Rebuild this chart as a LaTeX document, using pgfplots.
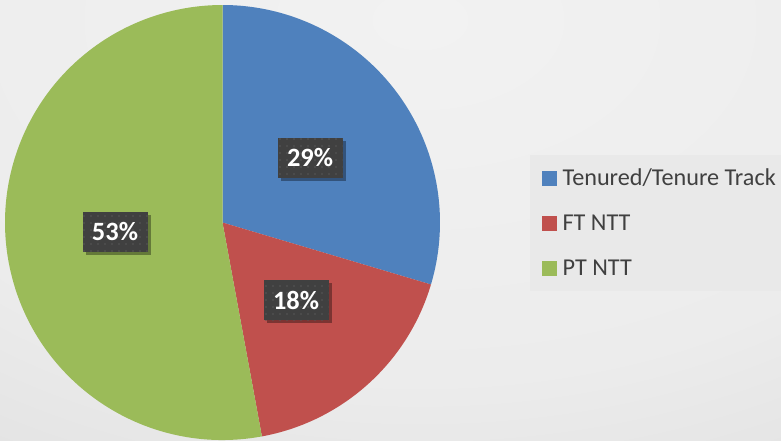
\documentclass[border=0pt]{standalone}
\usepackage{pgfplots}
\pgfplotsset{compat=1.18}
\usepackage{pgfplotstable}
\usepackage{fontspec}
\setmainfont{Carlito}
\usetikzlibrary{patterns.meta,shadows}
\definecolor{sblue}{HTML}{4F81BD}
\definecolor{sred}{HTML}{C0504D}
\definecolor{sgreen}{HTML}{9BBB59}
\definecolor{boxgray}{HTML}{404040}
\definecolor{dotgray}{HTML}{575757}
\definecolor{txtgray}{HTML}{404040}
\definecolor{legbg}{HTML}{E9E9E9}
\definecolor{bgA}{HTML}{F2F2F2}
\definecolor{bgB}{HTML}{ECECEC}
\definecolor{bgC}{HTML}{E4E4E4}
\definecolor{bgD}{HTML}{D6D6D6}
\definecolor{bgE}{HTML}{C6C6C6}
\pgfdeclareradialshading{bgshade}{\pgfpoint{0bp}{0bp}}{%
  color(0bp)=(bgA); color(18bp)=(bgB); color(25bp)=(bgC);
  color(37.5bp)=(bgD); color(50bp)=(bgE); color(100bp)=(bgE)}

% share (percent), label, label position (pixels)
\pgfplotstableread{
share label lx ly
29.6 29 310 158
17.5 18 296 300
52.9 53 115 232
}\piedata

\pgfplotstablegetelem{0}{share}\of\piedata \let\sA\pgfplotsretval
\pgfplotstablegetelem{1}{share}\of\piedata \let\sB\pgfplotsretval
\pgfplotstablegetelem{2}{share}\of\piedata \let\sC\pgfplotsretval
\pgfmathsetmacro\aA{90}
\pgfmathsetmacro\aB{\aA-3.6*\sA}
\pgfmathsetmacro\aC{\aB-3.6*\sB}
\pgfmathsetmacro\aD{\aC-3.6*\sC}
\def\cx{222.5}\def\cy{222.5}\def\rad{217.5pt}

\tikzset{pctbox/.style={fill=boxgray, minimum width=65pt, minimum height=40pt,
   inner sep=0pt, text=white, font=\bfseries\fontsize{26.4}{30}\selectfont,
   drop shadow={shadow xshift=3pt, shadow yshift=-3pt, opacity=0.35, fill=black},
   postaction={pattern={Dots[distance=7pt, radius=0.9pt]}, pattern color=dotgray}}}

\begin{document}
\begin{tikzpicture}
\useasboundingbox (0,0) rectangle (781pt,440pt);
\clip (0,0) rectangle (781pt,440pt);
\begin{axis}[at={(0,0)}, anchor=south west, scale only axis,
  width=781pt, height=440pt, xmin=0, xmax=781, ymin=0, ymax=440,
  y dir=reverse, hide axis,
  legend cell align=left,
  legend image code/.code={\fill[#1] (0pt,-7pt) rectangle (14pt,7pt);},
  legend style={at={(axis cs:530,155)}, anchor=north west, fill=legbg, draw=none,
    inner xsep=12pt, inner ysep=10.5pt, text=txtgray,
    font=\fontsize{24.2}{28}\selectfont, row sep=20pt, column sep=6pt,
    nodes={inner sep=0pt, text height=20pt, text depth=5pt}},
]
\shade[shading=bgshade] (axis cs:420,20) ellipse [x radius=800pt, y radius=500pt];
\fill[sblue] (axis cs:\cx,\cy) -- ++(\aA:\rad) arc[start angle=\aA, end angle=\aB, radius=\rad] -- cycle;
\fill[sred] (axis cs:\cx,\cy) -- ++(\aB:\rad) arc[start angle=\aB, end angle=\aC, radius=\rad] -- cycle;
\fill[sgreen] (axis cs:\cx,\cy) -- ++(\aC:\rad) arc[start angle=\aC, end angle=\aD, radius=\rad] -- cycle;
\node[pctbox] at (axis cs:310,158) {29\%};
\node[pctbox] at (axis cs:296,300) {18\%};
\node[pctbox] at (axis cs:115,232) {53\%};
\addlegendimage{sblue}\addlegendentry{Tenured/Tenure Track}
\addlegendimage{sred}\addlegendentry{FT NTT}
\addlegendimage{sgreen}\addlegendentry{PT NTT}
\end{axis}
\end{tikzpicture}
\end{document}
